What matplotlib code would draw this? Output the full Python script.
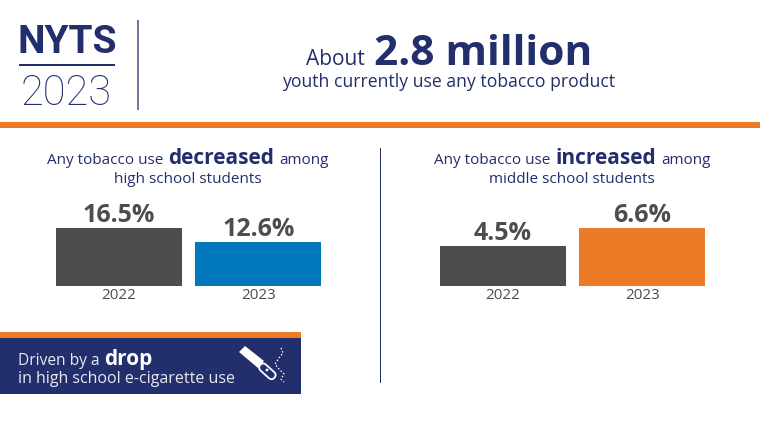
import matplotlib
matplotlib.use("Agg")
import matplotlib.pyplot as plt
from matplotlib.patches import Rectangle, Polygon, Circle, FancyBboxPatch
from matplotlib.transforms import Affine2D

plt.rcParams['font.family'] = ['Open Sans', 'DejaVu Sans']

NAVY = '#232e6c'
ORANGE = '#ec7a26'
GREY = '#4d4d4d'
BLUE = '#0079bc'

years = ['2022', '2023']
high_school = [16.5, 12.6]
middle_school = [4.5, 6.6]
high_colors = [GREY, BLUE]
middle_colors = [GREY, ORANGE]

W, H = 760, 428
fig = plt.figure(figsize=(W / 100, H / 100), dpi=100)
fig.patch.set_facecolor('white')

# overlay in pixel coordinates for the text and rules
bg = fig.add_axes([0, 0, 1, 1])
bg.set_xlim(0, W)
bg.set_ylim(H, 0)
bg.axis('off')


def rich_line(cx, y, parts, gap=5):
    # parts = (text, size, weight), drawn side by side and centred on cx
    renderer = fig.canvas.get_renderer()
    widths = []
    for s, size, weight in parts:
        t = bg.text(0, 0, s, fontsize=size, fontweight=weight)
        widths.append(t.get_window_extent(renderer).width)
        t.remove()
    x = cx - (sum(widths) + gap * (len(parts) - 1)) / 2
    for (s, size, weight), w in zip(parts, widths):
        bg.text(x, y, s, fontsize=size, fontweight=weight, color=NAVY, va='baseline', ha='left')
        x += w + gap


# header
bg.text(18, 53, 'NYTS', fontsize=28, fontweight='bold', family='Roboto', color=NAVY, va='baseline')
bg.add_patch(Rectangle((19, 64), 96, 1.6, color=NAVY, lw=0))
bg.text(21, 105, '2023', fontsize=30, fontweight='light', family='Roboto', color=NAVY, va='baseline')
bg.add_patch(Rectangle((137, 20), 1.6, 90, color='#6f779f', lw=0))
rich_line(449, 65, [('About', 15, 'normal'), ('2.8 million', 30.5, 'bold')], gap=9)
bg.text(449, 87, 'youth currently use any tobacco product', fontsize=12.7, color=NAVY,
        ha='center', va='baseline')
bg.add_patch(Rectangle((0, 122), W, 6, color=ORANGE, lw=0))

# panel headings
rich_line(188, 164, [('Any tobacco use', 11, 'normal'), ('decreased', 15, 'bold'), ('among', 11, 'normal')])
bg.text(188, 183, 'high school students', fontsize=11, color=NAVY, ha='center', va='baseline')
rich_line(572, 164, [('Any tobacco use', 11, 'normal'), ('increased', 15, 'bold'), ('among', 11, 'normal')])
bg.text(572, 183, 'middle school students', fontsize=11, color=NAVY, ha='center', va='baseline')
bg.add_patch(Rectangle((379.5, 148), 1.5, 235, color=NAVY, lw=0))


def bar_panel(left, right, values, colors):
    top, base = 228, 285.5
    ax = fig.add_axes([left / W, 1 - base / H, (right - left) / W, (base - top) / H])
    ax.bar(years, values, width=0.9, color=colors)
    ax.set_xlim(-0.45, 1.45)
    ax.set_ylim(0, max(values))
    for i, v in enumerate(values):
        ax.annotate(f'{v}%', (i, v), xytext=(0, 0), textcoords='offset points', ha='center',
                    va='bottom', fontsize=18, fontweight='bold', color=GREY, annotation_clip=False)
    for s in ax.spines.values():
        s.set_visible(False)
    ax.set_yticks([])
    ax.tick_params(axis='x', length=0, pad=2, labelsize=11, labelcolor=GREY)
    ax.patch.set_alpha(0)


bar_panel(56, 321, high_school, high_colors)
bar_panel(440, 705, middle_school, middle_colors)

# callout box
bg.add_patch(Rectangle((0, 332), 301, 62, color=NAVY, lw=0))
bg.add_patch(Rectangle((0, 332), 301, 6, color=ORANGE, lw=0))
bg.text(18, 365, 'Driven by a', fontsize=11.2, color='#e8e9f0', va='baseline')
bg.text(104, 365, 'drop', fontsize=15, fontweight='bold', color='white', va='baseline')
bg.text(18, 383, 'in high school e-cigarette use', fontsize=11.5, color='#e8e9f0', va='baseline')

# e-cigarette icon
bg.add_patch(Polygon([(245, 346), (239, 352), (258, 368), (264, 361)], color='white', lw=0))
rot = Affine2D().rotate_deg_around(267, 371, 42) + bg.transData
bg.add_patch(FancyBboxPatch((258, 367), 19, 8, boxstyle='round,pad=0,rounding_size=4',
                            facecolor=NAVY, edgecolor='white', lw=1.3, transform=rot))
bg.add_patch(Circle((267, 370), 1.4, color='white', lw=0))
bg.plot([281, 283, 279, 275, 279, 284, 281, 284], [348, 353, 358, 364, 369, 374, 379, 382],
        color='white', lw=1, ls=(0, (1, 1.5)))

fig.savefig('out.png', dpi=100)
